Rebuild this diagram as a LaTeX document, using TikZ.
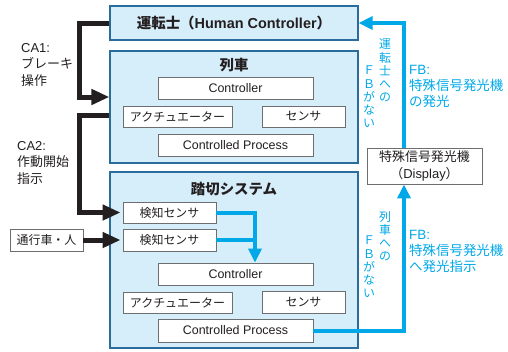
\documentclass[tikz,border=0pt]{standalone}
\usepackage{fontspec}
\setmainfont{Liberation Sans}
\newfontfamily\jp{Noto Sans CJK JP}
\usetikzlibrary{arrows.meta}

\definecolor{panelfill}{HTML}{D6EDFA}
\definecolor{panelline}{HTML}{2A6C9B}
\definecolor{fbblue}{HTML}{00A8E8}
\definecolor{ink}{HTML}{231F20}
\definecolor{boxline}{HTML}{6D6E70}

\tikzset{
  panel/.style={draw=panelline, fill=panelfill, line width=1.2bp, inner sep=0pt},
  unit/.style={draw=boxline, fill=white, line width=0.9bp, inner sep=0pt,
    text=ink, font=\fontsize{12.5}{14}\selectfont},
  heading/.style={text=ink, font=\bfseries\fontsize{14.5}{16}\selectfont, inner sep=0pt},
  ctrlarrow/.style={draw=ink, line width=5bp,
    -{Triangle[length=18bp,width=15bp]}},
  ctrlline/.style={draw=ink, line width=5bp},
  fbarrow/.style={draw=fbblue, line width=4bp,
    -{Triangle[length=14bp,width=13bp]}},
  fbline/.style={draw=fbblue, line width=4bp},
  calabel/.style={text=ink, align=left, anchor=north west, inner sep=0pt,
    font=\fontsize{13}{16.5}\selectfont},
  fblabel/.style={text=fbblue, align=left, anchor=north west, inner sep=0pt,
    font=\fontsize{13.5}{16}\selectfont},
  vlabel/.style={text=fbblue, align=center, anchor=north, inner sep=0pt,
    font=\jp\fontsize{12}{13.3}\selectfont},
}

\begin{document}
\begin{tikzpicture}[x=1bp, y=-1bp]
  \useasboundingbox (0,0) rectangle (508,351);

  % driver, train and level-crossing panels
  \node[panel, minimum width=248bp, minimum height=34bp] (driver) at (234,23) {};
  \node[heading] (drivertitle) at (234,23)
    {{\jp 運転士（}Human Controller{\jp ）}};

  \node[panel, minimum width=248bp, minimum height=112bp] (train) at (234,107) {};
  \node[heading] (traintitle) at (234,65) {\jp 列車};
  \node[unit, minimum width=155bp, minimum height=22bp] (tctrl) at (235.5,88) {Controller};
  \node[unit, minimum width=109bp, minimum height=21bp] (tact) at (177.5,116.5)
    {\jp\fontsize{12}{14}\selectfont アクチュエーター};
  \node[unit, minimum width=83bp, minimum height=21bp] (tsen) at (303.5,116.5)
    {\jp\fontsize{12}{14}\selectfont センサ};
  \node[unit, minimum width=155bp, minimum height=22bp] (tproc) at (235.5,145) {Controlled Process};

  \node[panel, minimum width=248bp, minimum height=176bp] (crossing) at (234,260) {};
  \node[heading] (crossingtitle) at (234,189) {\jp 踏切システム};
  \node[unit, minimum width=93bp, minimum height=21bp] (det1) at (169.5,212.5)
    {\jp\fontsize{12}{14}\selectfont 検知センサ};
  \node[unit, minimum width=93bp, minimum height=22bp] (det2) at (169.5,240)
    {\jp\fontsize{12}{14}\selectfont 検知センサ};
  \node[unit, minimum width=155bp, minimum height=22bp] (cctrl) at (235.5,274) {Controller};
  \node[unit, minimum width=109bp, minimum height=21bp] (cact) at (177.5,302.5)
    {\jp\fontsize{12}{14}\selectfont アクチュエーター};
  \node[unit, minimum width=83bp, minimum height=22bp] (csen) at (303.5,302)
    {\jp\fontsize{12}{14}\selectfont センサ};
  \node[unit, minimum width=155bp, minimum height=23bp] (cproc) at (235.5,330.5) {Controlled Process};

  % outside actors
  \node[unit, minimum width=73bp, minimum height=22bp] (passer) at (46.5,240)
    {\jp\fontsize{12}{14}\selectfont 通行車・人};
  \node[unit, minimum width=115bp, minimum height=36bp, align=center,
    font=\fontsize{13}{16.5}\selectfont] (display) at (424.5,166)
    {{\jp 特殊信号発光機}\\{\jp （}Display{\jp ）}};

  % control actions
  \draw[ctrlarrow] (driver.west) -- ++(-30,0) |- ([yshift=10bp]train.west);
  \draw[ctrlarrow, shorten >=2bp] ([yshift=-8bp]train.west) -- ++(-30,0) |- (det1.west);
  \draw[ctrlarrow, shorten >=2bp] (passer.east) -- (det2.west);

  % sensor signals into the crossing controller
  \draw[fbline] (det2.east) -- ++(39,0);
  \draw[fbarrow] (det1.east) -| ([xshift=19.5bp]cctrl.north);

  % feedback paths
  \draw[fbarrow] ([xshift=-20.5bp]display.north) |- (driver.east);
  \draw[fbarrow] (cproc.east) -| ([xshift=-20.5bp]display.south);

  % control action labels
  \node[calabel] (ca1) at (21,43) {CA1:\\{\jp ブレーキ}\\{\jp 操作}};
  \node[calabel] (ca2) at (17,141) {CA2:\\{\jp 作動開始}\\{\jp 指示}};

  % feedback labels
  \node[fblabel] (fb1) at (409,65) {FB:\\{\jp 特殊信号発光機}\\{\jp の発光}};
  \node[fblabel] (fb2) at (409,230) {FB:\\{\jp 特殊信号発光機}\\{\jp へ発光指示}};

  \node[vlabel] (nofb1a) at (385,39) {運\\転\\士\\へ\\の};
  \node[vlabel] (nofb1b) at (369,66) {Ｆ\\Ｂ\\が\\な\\い};
  \node[vlabel] (nofb2a) at (385,211) {列\\車\\へ\\の};
  \node[vlabel] (nofb2b) at (369,236) {Ｆ\\Ｂ\\が\\な\\い};
\end{tikzpicture}
\end{document}
